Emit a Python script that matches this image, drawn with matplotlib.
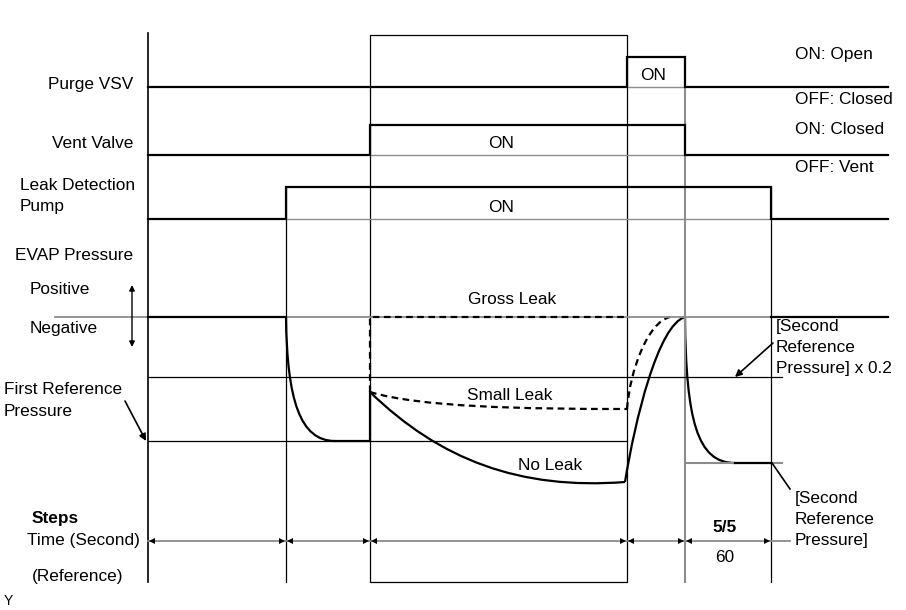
import matplotlib.pyplot as plt
from matplotlib.path import Path
from matplotlib.patches import PathPatch, Rectangle

plt.rcParams['font.family'] = ['Liberation Sans', 'DejaVu Sans']

# step boundaries along the time axis (drawing units, left -> right)
step_x = [148, 286, 370, 627, 685, 771]
right_end = 888

# on/off signals: (off level, on level, on start, on end)
purge_vsv = (87, 57, 627, 685)
vent_valve = (155, 125, 370, 685)
leak_pump = (219, 187, 286, 771)

# EVAP pressure levels
p_zero = 317
p_ref_x02 = 377
p_first_ref = 441
p_second_ref = 463
p_leak_start = 392

# pressure curves as cubic bezier control points
drop_first = [(286, 317), (287, 400), (300, 441), (335, 441)]
small_leak = [(370, 392), (420, 407), (520, 409), (627, 409)]
no_leak = [(370, 392), (440, 460), (520, 490), (625, 482)]
rise_small = [(627, 409), (630, 370), (648, 322), (670, 317)]
rise_no = [(625, 482), (635, 420), (658, 325), (685, 317)]
drop_second = [(685, 317), (686, 420), (697, 463), (735, 463)]

fig = plt.figure(figsize=(9.06, 6.10), dpi=100)
ax = fig.add_axes([0, 0, 1, 1])
ax.set_xlim(0, 906)
ax.set_ylim(610, 0)
ax.axis('off')

K = 'black'
G = '#8c8c8c'
thick = 1.6
thin = 0.9
fs = 12.4


def bez(pts, **kw):
    codes = [Path.MOVETO, Path.CURVE4, Path.CURVE4, Path.CURVE4]
    ax.add_patch(PathPatch(Path(pts, codes), fill=False, capstyle='butt', **kw))


def signal(sig, xend):
    low, high, t0, t1 = sig
    ax.plot([t0, t1], [low, low], color=G, lw=1.0)
    ax.plot([step_x[0], t0, t0, t1, t1, xend], [low, low, high, high, low, low],
            color=K, lw=thick, solid_joinstyle='miter')


# verticals / frame
ax.plot([148, 148], [33, 582], color=K, lw=1.2)
ax.plot([286, 286], [187, 582], color=K, lw=thin)
ax.plot([771, 771], [187, 582], color=K, lw=thin)
ax.plot([685, 685], [57, 582], color=G, lw=1.5)
ax.add_patch(Rectangle((370, 35), 627 - 370, 582 - 35, fill=False, ec=K, lw=thin))

signal(purge_vsv, right_end)
signal(vent_valve, right_end)
signal(leak_pump, right_end)

# pressure reference lines
ax.plot([55, right_end], [p_zero, p_zero], color=G, lw=1.3)
ax.plot([148, 782], [p_ref_x02, p_ref_x02], color=K, lw=thin)
ax.plot([148, 627], [p_first_ref, p_first_ref], color=K, lw=thin)
ax.plot([685, 782], [p_second_ref, p_second_ref], color=G, lw=1.5)
ax.plot([771, right_end], [p_zero, p_zero], color=K, lw=thick)

# pressure traces (solid)
ax.plot([148, 286], [p_zero, p_zero], color=K, lw=thick)
bez(drop_first, color=K, lw=thick)
ax.plot([335, 370, 370], [p_first_ref, p_first_ref, p_leak_start], color=K, lw=thick)
bez(no_leak, color=K, lw=thick)
bez(rise_no, color=K, lw=thick)
bez(drop_second, color=K, lw=thick)
ax.plot([735, 771], [p_second_ref, p_second_ref], color=K, lw=thick)

# dashed traces
dash = (0, (3, 2))
ax.plot([370, 370, 627], [p_leak_start, p_zero, p_zero], color=K, lw=thick, ls=dash)
bez(small_leak, color=K, lw=thick, ls=dash)
bez(rise_small, color=K, lw=thick, ls=dash)

# time arrows
ty = 541
ax.plot([148, 790], [ty, ty], color=G, lw=1.3)
for a, b in zip(step_x[:-1], step_x[1:]):
    ax.plot([a + 4], [ty], marker='<', color=K, ms=4, mew=0)
    ax.plot([b - 4], [ty], marker='>', color=K, ms=4, mew=0)

# left labels
ax.text(133, 85, 'Purge VSV', ha='right', va='center', fontsize=fs)
ax.text(133, 143, 'Vent Valve', ha='right', va='center', fontsize=fs)
ax.text(20, 185, 'Leak Detection', ha='left', va='center', fontsize=fs)
ax.text(20, 206, 'Pump', ha='left', va='center', fontsize=fs)
ax.text(15, 255, 'EVAP Pressure', ha='left', va='center', fontsize=fs)
ax.text(30, 290, 'Positive', ha='left', va='center', fontsize=fs)
ax.text(30, 329, 'Negative', ha='left', va='center', fontsize=fs)
ax.annotate('', xy=(132, 285), xytext=(132, 347),
            arrowprops=dict(arrowstyle='<|-|>', color=K, lw=1.0, mutation_scale=8, shrinkA=0, shrinkB=0))
ax.text(4, 390, 'First Reference', ha='left', va='center', fontsize=fs)
ax.text(4, 411, 'Pressure', ha='left', va='center', fontsize=fs)
ax.annotate('', xy=(146, 441), xytext=(125, 401),
            arrowprops=dict(arrowstyle='-|>', color=K, lw=1.2, mutation_scale=10, shrinkA=0, shrinkB=0))
ax.text(32, 518, 'Steps', ha='left', va='center', fontsize=fs, fontweight='bold')
ax.text(140, 541, 'Time (Second)', ha='right', va='center', fontsize=fs)
ax.text(32, 577, '(Reference)', ha='left', va='center', fontsize=fs)
ax.text(4, 601, 'Y', ha='left', va='center', fontsize=10)

# in-chart labels
ax.text(653, 76, 'ON', ha='center', va='center', fontsize=fs)
ax.text(501, 144, 'ON', ha='center', va='center', fontsize=fs)
ax.text(501, 208, 'ON', ha='center', va='center', fontsize=fs)
ax.text(512, 300, 'Gross Leak', ha='center', va='center', fontsize=fs)
ax.text(510, 395, 'Small Leak', ha='center', va='center', fontsize=fs)
ax.text(550, 466, 'No Leak', ha='center', va='center', fontsize=fs)
ax.text(725, 527, '5/5', ha='center', va='center', fontsize=fs, fontweight='bold')
ax.text(725, 557, '60', ha='center', va='center', fontsize=fs)

# right labels
ax.text(795, 55, 'ON: Open', ha='left', va='center', fontsize=fs)
ax.text(795, 99, 'OFF: Closed', ha='left', va='center', fontsize=fs)
ax.text(795, 129, 'ON: Closed', ha='left', va='center', fontsize=fs)
ax.text(795, 168, 'OFF: Vent', ha='left', va='center', fontsize=fs)
ax.text(776, 327, '[Second', ha='left', va='center', fontsize=fs)
ax.text(776, 348, 'Reference', ha='left', va='center', fontsize=fs)
ax.text(776, 369, 'Pressure] x 0.2', ha='left', va='center', fontsize=fs)
ax.annotate('', xy=(735, 377), xytext=(773, 343),
            arrowprops=dict(arrowstyle='-|>', color=K, lw=1.2, mutation_scale=10, shrinkA=0, shrinkB=0))
ax.plot([772, 790], [463, 489], color=K, lw=1.2)
ax.text(795, 499, '[Second', ha='left', va='center', fontsize=fs)
ax.text(795, 520, 'Reference', ha='left', va='center', fontsize=fs)
ax.text(795, 541, 'Pressure]', ha='left', va='center', fontsize=fs)

fig.savefig('out.png', dpi=100, facecolor='white')
